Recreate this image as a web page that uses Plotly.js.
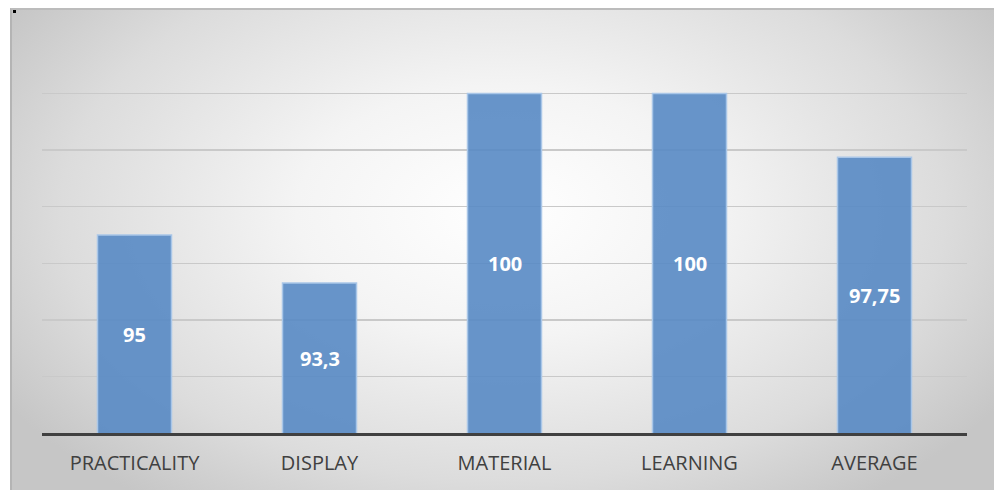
<!DOCTYPE html>
<html>
<head>
<meta charset="utf-8">
<script src="https://cdn.plot.ly/plotly-3.0.1.min.js"></script>
<style>
html,body{margin:0;padding:0;background:#fff;}
#wrap{position:absolute;left:10px;top:8px;width:984px;height:482px;box-sizing:border-box;border-left:2px solid #b4b4b4;border-top:2px solid #bcbcbc;
background:radial-gradient(ellipse 60% 75% at 50% 42%, #ffffff 0%, #f4f4f4 35%, #dcdcdc 75%, #c6c6c6 100%);}
#dot{position:absolute;left:13px;top:10px;width:3px;height:3px;background:#000;}
#chart{position:absolute;left:0;top:0;width:994px;height:490px;}
</style>
</head>
<body>
<div id="wrap"></div>
<div id="dot"></div>
<div id="chart"></div>
<script>
const categories = ["PRACTICALITY", "DISPLAY", "MATERIAL", "LEARNING", "AVERAGE"];
const values = [95, 93.3, 100, 100, 97.75];
const labels = values.map(v => String(v).replace('.', ','));
const axisMin = 88, axisMax = 102;

const trace = {
  type: 'bar',
  x: categories,
  y: values,
  marker: {color: 'rgba(88,138,196,0.9)', line: {color: '#a9c6e8', width: 1.5}},
  hoverinfo: 'none'
};

const annotations = categories.map((c, i) => ({
  x: c, y: (axisMin + values[i]) / 2, xref: 'x', yref: 'y',
  text: '<b>' + labels[i] + '</b>', showarrow: false,
  font: {family: 'Open Sans, sans-serif', size: 20, color: '#ffffff'}
}));

const layout = {
  width: 994, height: 490,
  margin: {l: 42, r: 27, t: 37, b: 57},
  paper_bgcolor: 'rgba(0,0,0,0)',
  plot_bgcolor: 'rgba(0,0,0,0)',
  bargap: 0.6,
  showlegend: false,
  annotations: annotations,
  xaxis: {
    showline: true, linecolor: '#404040', linewidth: 3,
    showgrid: false, ticks: '',
    tickfont: {family: 'Open Sans, sans-serif', size: 20, color: '#404040'},
    ticklabelstandoff: 10
  },
  yaxis: {
    range: [axisMin, axisMax], tick0: 88, dtick: 2,
    showticklabels: false, ticks: '',
    showgrid: true, gridcolor: '#c9c9c9', gridwidth: 1.5,
    zeroline: false, showline: false
  }
};

Plotly.newPlot('chart', [trace], layout, {staticPlot: true, displayModeBar: false});
</script>
</body>
</html>
